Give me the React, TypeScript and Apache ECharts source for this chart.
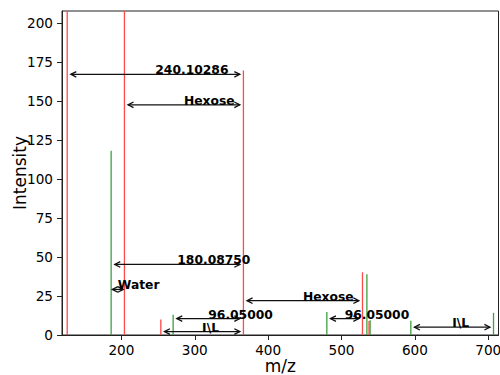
import React, { useEffect, useRef } from "react";
import * as echarts from "echarts";

// Peaks (m/z, intensity)
const redMz = [126.1, 204.1, 253.7, 366.3, 528.6, 537.5];
const redIntensity = [250, 250, 9.9, 169.5, 40.2, 9];
const greenMz = [186.0, 270.5, 480.0, 534.6, 539.0, 594.5, 707.2];
const greenIntensity = [118.1, 12.9, 14.8, 38.9, 9.4, 9.2, 14.2];

// Annotations: start m/z, end m/z, height, label
const annStart = [126.1, 204.1, 186.0, 186.0, 270.5, 253.7, 366.3, 480.0, 594.5];
const annEnd = [366.3, 366.3, 366.3, 204.1, 366.3, 366.3, 528.6, 528.6, 707.2];
const annY = [167, 147.5, 45.2, 29.2, 10.5, 2.2, 22, 10.5, 5];
const annLabels = ["240.10286", "Hexose", "180.08750", "Water", "96.05000", "I\\L", "Hexose", "96.05000", "I\\L"];

// Axis ticks
const xTicks = [200, 300, 400, 500, 600, 700];
const yTicks = [0, 25, 50, 75, 100, 125, 150, 175, 200];

const FONT = "DejaVu Sans";

function stemSeries(mz: number[], inten: number[], color: string) {
  return {
    type: "custom",
    clip: true,
    data: mz.map((m, i) => [m, inten[i]]),
    encode: { x: 0, y: 1 },
    renderItem: (params: any, api: any) => {
      const x = api.value(0);
      const y = api.value(1);
      const p0 = api.coord([x, 0]);
      const p1 = api.coord([x, y]);
      return {
        type: "line",
        shape: { x1: p0[0], y1: p0[1], x2: p1[0], y2: p1[1] },
        style: { stroke: color, lineWidth: 1.3 },
      };
    },
  };
}

export default function App() {
  const ref = useRef<HTMLDivElement>(null);
  useEffect(() => {
    if (!ref.current) return;
    const chart = echarts.init(ref.current, null, { renderer: "svg" });
    const annSeries = {
      type: "custom",
      clip: false,
      z: 10,
      data: annStart.map((s, i) => [s, annEnd[i], annY[i]]),
      encode: { x: [0, 1], y: 2 },
      renderItem: (params: any, api: any) => {
        const x1 = api.value(0);
        const x2 = api.value(1);
        const y = api.value(2);
        const p1 = api.coord([x1, y]);
        const p2 = api.coord([x2, y]);
        const span = p2[0] - p1[0];
        const s = span > 30 ? 3.6 : 1.2;
        const a = p1[0] + s;
        const b = p2[0] - s;
        const yy = p1[1];
        const h = 5.5;
        const w = 2.8;
        const st = { stroke: "#111", lineWidth: 1.3, fill: null };
        return {
          type: "group",
          children: [
            { type: "line", shape: { x1: a, y1: yy, x2: b, y2: yy }, style: st },
            { type: "polyline", shape: { points: [[a + h, yy - w], [a, yy], [a + h, yy + w]] }, style: st },
            { type: "polyline", shape: { points: [[b - h, yy - w], [b, yy], [b - h, yy + w]] }, style: st },
            {
              type: "text",
              x: (p1[0] + p2[0]) / 2,
              y: yy + 2,
              style: {
                text: annLabels[params.dataIndex],
                fontFamily: FONT,
                fontWeight: "bold",
                fontSize: 12.3,
                fill: "#000",
                align: "left",
                verticalAlign: "bottom",
              },
            },
          ],
        };
      },
    };
    chart.setOption({
      animation: false,
      backgroundColor: "#fff",
      grid: {
        left: 62,
        right: 1.5,
        top: 11,
        bottom: 40,
        containLabel: false,
        outerBoundsMode: "none",
        show: true,
        borderColor: "#222",
        borderWidth: 1,
        backgroundColor: "transparent",
      },
      xAxis: {
        type: "value",
        min: 119,
        max: 714,
        name: "m/z",
        nameLocation: "middle",
        nameGap: 22,
        nameMoveOverlap: false,
        nameTextStyle: { fontFamily: FONT, fontSize: 17, color: "#000" },
        splitLine: { show: false },
        axisLine: { show: true, onZero: false, lineStyle: { color: "#222", width: 1 } },
        axisTick: { show: true, length: 5, lineStyle: { color: "#222" }, customValues: xTicks },
        axisLabel: { fontFamily: FONT, fontSize: 13.6, color: "#000", margin: 8, customValues: xTicks },
      },
      yAxis: {
        type: "value",
        min: 0,
        max: 207.6,
        name: "Intensity",
        nameLocation: "middle",
        nameGap: 34,
        nameRotate: 90,
        nameMoveOverlap: false,
        nameTextStyle: { fontFamily: FONT, fontSize: 17, color: "#000" },
        splitLine: { show: false },
        axisLine: { show: true, lineStyle: { color: "#222", width: 1 } },
        axisTick: { show: true, length: 5, lineStyle: { color: "#222" }, customValues: yTicks },
        axisLabel: { fontFamily: FONT, fontSize: 13.6, color: "#000", margin: 9, customValues: yTicks },
      },
      series: [
        stemSeries(redMz, redIntensity, "#ff4a4a"),
        stemSeries(greenMz, greenIntensity, "#3fa03f"),
        annSeries,
      ],
    });
    return () => chart.dispose();
  }, []);
  return <div ref={ref} style={{ position: "fixed", left: 0, top: 0, width: 500, height: 375 }} />;
}
